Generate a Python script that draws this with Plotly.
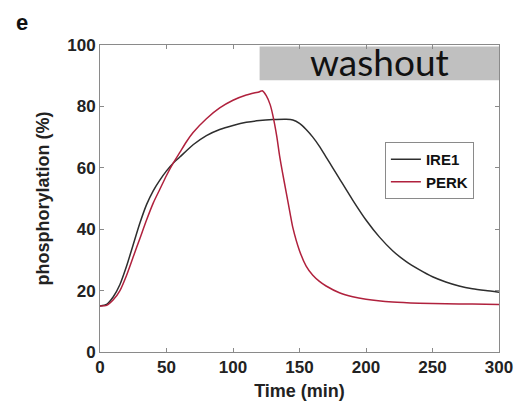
import plotly.graph_objects as go

ire1_t = [0, 5, 10, 15, 20, 25, 30, 35, 40, 45, 50, 55, 60, 70, 80, 90, 100, 110, 120, 130, 140, 145,
          150, 155, 160, 165, 170, 175, 180, 190, 200, 210, 220, 230, 240, 250, 260, 270, 280, 290, 300]
ire1_v = [15, 15.5, 18, 22, 28, 35, 42, 48, 52.5, 56, 59, 61.5, 63.5, 67.5, 70.5, 72.5, 73.8, 74.8, 75.4, 75.7, 75.8, 75.6,
          74.5, 72.5, 70, 67, 63.5, 60, 56.5, 49.5, 43, 37.5, 33, 29.5, 26.8, 24.5, 22.8, 21.5, 20.6, 20, 19.5]

perk_t = [0, 5, 10, 15, 20, 25, 30, 35, 40, 45, 50, 55, 60, 65, 70, 80, 90, 100, 110, 120, 122, 125, 128,
          130, 133, 135, 137, 140, 143, 145, 150, 155, 160, 165, 170, 180, 190, 200, 220, 240, 260, 280, 300]
perk_v = [15, 15.2, 17, 20, 25, 31, 37, 43, 48.5, 53, 57.5, 61.5, 65, 68.5, 71.5, 76, 79.5, 82, 83.7, 84.8, 85.1, 83.5, 80.5,
          77, 70, 64, 59, 52, 45, 40.5, 33, 28, 25, 23, 21.5, 19.3, 18, 17.2, 16.3, 15.9, 15.7, 15.6, 15.5]

x_ticks = [0, 50, 100, 150, 200, 250, 300]
y_ticks = [0, 20, 40, 60, 80, 100]
washout_start, washout_end = 120, 300
washout_low, washout_high = 88.5, 99.5

fig = go.Figure()
fig.add_trace(go.Scatter(x=ire1_t, y=ire1_v, mode="lines", name="IRE1",
                         line=dict(color="#2e2e2e", width=1.5, shape="spline", smoothing=0.6)))
fig.add_trace(go.Scatter(x=perk_t, y=perk_v, mode="lines", name="PERK",
                         line=dict(color="#b0213d", width=1.5, shape="spline", smoothing=0.6)))

fig.add_shape(type="rect", xref="x", yref="y", x0=washout_start, x1=washout_end,
              y0=washout_low, y1=washout_high, fillcolor="#c0c0c0", line=dict(width=0), layer="below")
fig.add_annotation(x=(washout_start + washout_end) / 2, y=(washout_low + washout_high) / 2 + 0.5,
                   xref="x", yref="y", text="washout", showarrow=False,
                   font=dict(family="Lato", size=37, color="#111111"))
fig.add_annotation(x=-0.215, y=1.025, xref="paper", yref="paper", text="e", showarrow=False,
                   xanchor="left", yanchor="bottom",
                   font=dict(family="Arial, Liberation Sans", size=22, color="#111111", weight="bold"))

axis_common = dict(showline=True, linecolor="#8a8a8a", linewidth=1, mirror="allticks",
                   ticks="inside", ticklen=4, tickcolor="#8a8a8a", showgrid=False, zeroline=False,
                   automargin=False,
                   tickfont=dict(family="Arial, Liberation Sans", size=17, color="#222222", weight="bold"))

# The page body has an 8px margin, so the figure is sized/offset to compensate
fig.update_layout(
    width=508, height=400,
    margin=dict(l=92, r=17, t=37, b=56),
    plot_bgcolor="white", paper_bgcolor="white",
    font=dict(family="Arial, Liberation Sans", color="#222222"),
    xaxis=dict(range=[0, 300], tickvals=x_ticks,
               title=dict(text="Time (min)", font=dict(size=18, weight="bold"), standoff=7), **axis_common),
    yaxis=dict(range=[0, 100], tickvals=y_ticks,
               title=dict(text="phosphorylation (%)", font=dict(size=18, weight="bold"), standoff=12), **axis_common),
    legend=dict(x=0.714, y=0.684, xanchor="left", yanchor="top", bgcolor="white",
                bordercolor="#8a8a8a", borderwidth=1,
                font=dict(family="Arial, Liberation Sans", size=15, color="#111111", weight="bold"),
                tracegroupgap=0, itemwidth=30),
    showlegend=True,
)

fig.write_html("out.html")
